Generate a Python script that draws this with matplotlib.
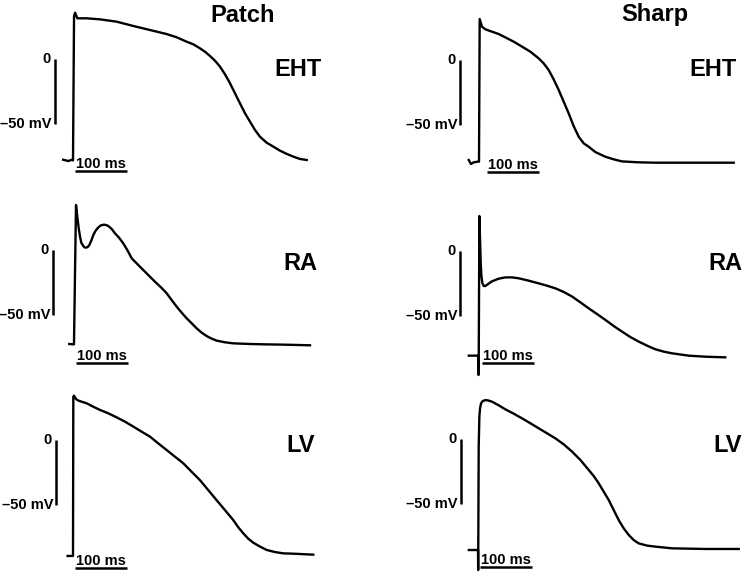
import matplotlib.pyplot as plt

plt.rcParams['font.family'] = ['Liberation Sans', 'DejaVu Sans']
plt.rcParams['font.weight'] = 'bold'

W, H = 744, 574
MS_PX = 0.52   # pixels per ms
MV_PX = 1.3    # pixels per mV

# action potentials, time in ms from upstroke, voltage in mV
eht_patch_t = [-19, -9, -2.5, 0, 2, 4, 8.3, 26.3, 52, 84, 116, 148, 180, 199.4, 218.6,
               231.4, 244.2, 253.8, 263.5, 273, 282.7, 292.3, 302, 311.5, 321, 330.8,
               340.4, 350, 359.6, 372.5, 385.2, 398, 411, 423.7, 436.5, 449.4]
eht_patch_v = [-77.5, -78.5, -77.5, -78, 33, 35.6, 31.3, 31.3, 30.5, 28.7, 25.4, 22.3,
               19.2, 16.7, 13.3, 11.3, 8.2, 5.6, 2.3, -1.3, -5.9, -11.8, -18.7, -26.4,
               -34, -41.8, -48.2, -54.6, -59.8, -64.4, -67.4, -70.5, -73, -75.1, -76.9,
               -77.7]

eht_sharp_t = [-19.8, -15.4, -10.2, -1.9, 0, 1.3, 5.8, 12.2, 25, 37.8, 50.6, 66.7, 82.7,
               98.7, 114.7, 124.4, 134, 143.6, 153.2, 162.8, 172.4, 182, 191.7, 201.3,
               210.9, 223.7, 242.9, 259, 275, 307, 339, 489.8]
eht_sharp_v = [-76.9, -80, -78.7, -78.2, -78.2, 31.5, 25.6, 23.6, 21.8, 20, 17.4, 14.1,
               10.3, 6.4, 1.3, -2.6, -7.7, -14.9, -23, -32, -41, -50.8, -59, -64.1,
               -66.7, -70.8, -74.4, -76.4, -78, -78.7, -79, -79]

ra_patch_t = [-10, -1, 2.9, 5.4, 8.1, 10.6, 13.1, 15.8, 18.9, 22.1, 25.4, 28.5, 32.3,
              36.2, 40.7, 45.8, 51, 56.7, 60.6, 65, 71.5, 77.9, 85.6, 93.8, 101.5, 110,
              120.8, 132.3, 143.8, 154.8, 166.3, 177.3, 186.9, 196.5, 206.1, 215.8,
              225.4, 235, 244.6, 254.2, 263.8, 273.5, 289.4, 305.4, 337.5, 369.6,
              401.5, 452.9]
ra_patch_v = [-72.3, -72.6, 34.6, 25.6, 16.7, 10.3, 5.6, 3.8, 2.1, 1.8, 2.3, 3.8, 7.2,
              11.5, 14.9, 17.4, 19, 19.5, 19.2, 18.5, 16.2, 12.8, 9.5, 5.1, 0, -6.4,
              -10.8, -15.4, -20, -24.4, -28.7, -33.3, -38.5, -43.6, -48.2, -52.6,
              -56.4, -60.3, -63.6, -66.2, -68.2, -69.7, -71, -71.8, -72.3, -72.6,
              -72.8, -73.3]

ra_sharp_t = [-19, -1.3, -0.3, 0, 1.3, 2.6, 3.8, 5.1, 7.0, 9.6, 12.8, 17.3, 25.6, 38.5,
              51.3, 64, 77, 96, 115.4, 131.4, 147.4, 163.5, 179.5, 195.5, 211.5, 227.6,
              243.6, 259.6, 275.6, 291.7, 307.7, 323.7, 339.7, 355.8, 371.8, 403.8,
              435.8, 474.2]
ra_sharp_v = [-80.5, -80.5, -95.4, -90, 26.9, 8.5, -8.2, -18.7, -24.6, -26.9, -26.9,
              -25.6, -23.3, -21.3, -20.3, -20.3, -21, -22.8, -24.9, -26.7, -28.7, -31.5,
              -35, -39.5, -44.1, -48.5, -53, -57.7, -62, -66.2, -69.7, -72.8, -75.6,
              -77.4, -78.7, -80.5, -81.3, -81.8]

lv_patch_t = [-10.3, -2.6, 0, 0.6, 1.9, 5.8, 10.3, 26.3, 39, 52, 68, 84, 100, 116, 132,
              148, 164, 180, 196, 212, 228, 244, 260, 276, 292, 308, 318, 327.5, 337,
              346.7, 359.6, 372.5, 388.5, 404.5, 420.5, 436.5, 462]
lv_patch_v = [-89.2, -89.2, -89.2, 33.3, 34.1, 31.5, 30.3, 28.2, 25.6, 23.1, 20.5, 17.4,
              14.1, 10.3, 6.4, 2.6, -2.6, -7.7, -12.8, -17.9, -24.4, -30.8, -38.5,
              -46.2, -53.8, -61.5, -67.2, -71.8, -75.9, -79, -82, -84.6, -86.2, -87.2,
              -87.4, -87.7, -88.2]

lv_sharp_t = [-19, -3.3, -1.3, -1.0, 0, 1.3, 2.6, 4.5, 7.7, 12.8, 17.9, 25.6, 38.5, 51.3,
              67.3, 83.3, 99.4, 115.4, 131.4, 147.4, 163.5, 179.5, 195.5, 211.5, 221.2,
              230.8, 240.4, 250, 259.6, 269.2, 278.8, 288.5, 298, 307.7, 323.7, 339.7,
              371.8, 435.8, 500]
lv_sharp_v = [-85.4, -85.4, -85.4, -100.8, -5.9, 17.2, 23.6, 27.4, 29.2, 29.9, 29.7,
              28.7, 25.9, 22.8, 19.5, 15.9, 12.1, 8.2, 4.4, 0.5, -4.1, -9.7, -16.1,
              -23.8, -28.5, -34.1, -40.5, -46.9, -54.6, -62.3, -68.7, -73.8, -77.7,
              -80.3, -82, -82.8, -84.1, -84.6, -84.6]

traces = [(eht_patch_t, eht_patch_v), (eht_sharp_t, eht_sharp_v),
          (ra_patch_t, ra_patch_v), (ra_sharp_t, ra_sharp_v),
          (lv_patch_t, lv_patch_v), (lv_sharp_t, lv_sharp_v)]

column_titles = ['Patch', 'Sharp']
row_labels = ['EHT', 'RA', 'LV']

# pixel position of (0 ms, 0 mV) in each panel
origins = [(73, 59), (479, 60), (74.5, 250), (478.7, 251), (73, 440), (478.7, 439)]
# x of vertical scale bar (px), start x and y of 100 ms bar (px)
vbar_x = [55, 460, 53, 460, 56, 461]
hbar_xy = [(75, 171), (487, 172), (76, 363), (482, 363), (75, 568), (480, 567)]
label_xy = [(322, 69), (737, 69), (317, 263), (742, 263), (315, 446), (742, 445)]
cells_y = [(0, 190), (190, 380), (380, 574)]
cells_x = [(0, 372), (372, 744)]

fig = plt.figure(figsize=(W / 100, H / 100), dpi=100)

for i, (t, v) in enumerate(traces):
    row, col = divmod(i, 2)
    x0, x1 = cells_x[col]
    y0, y1 = cells_y[row]
    ox, oy = origins[i]
    ax = fig.add_axes([x0 / W, 1 - y1 / H, (x1 - x0) / W, (y1 - y0) / H])
    ax.set_xlim((x0 - ox) / MS_PX, (x1 - ox) / MS_PX)
    ax.set_ylim((oy - y1) / MV_PX, (oy - y0) / MV_PX)
    ax.axis('off')

    ax.plot(t, v, color='black', lw=1.7, solid_joinstyle='round')

    # voltage scale bar
    bx = (vbar_x[i] - ox) / MS_PX
    ax.plot([bx, bx], [0, -50], color='black', lw=1.8, solid_capstyle='butt')
    ax.text(bx - 4 / MS_PX, 0, '0', ha='right', va='center', fontsize=10.5)
    ax.text(bx - 3 / MS_PX, -50, '\u201350 mV', ha='right', va='center', fontsize=10.5)

    # time scale bar
    hx, hy = hbar_xy[i]
    tx = (hx - ox) / MS_PX
    ty = (oy - hy) / MV_PX
    ax.plot([tx, tx + 100], [ty, ty], color='black', lw=1.8, solid_capstyle='butt')
    ax.text(tx + 50, ty + 3 / MV_PX, '100 ms', ha='center', va='baseline', fontsize=10.5)

    lx, ly = label_xy[i]
    fig.text(lx / W, 1 - ly / H, row_labels[row], ha='right', va='center', fontsize=17)

fig.text(243 / W, 1 - 15 / H, column_titles[0], ha='center', va='center', fontsize=17)
fig.text(655 / W, 1 - 15 / H, column_titles[1], ha='center', va='center', fontsize=17)

fig.savefig('out.png', dpi=100)
